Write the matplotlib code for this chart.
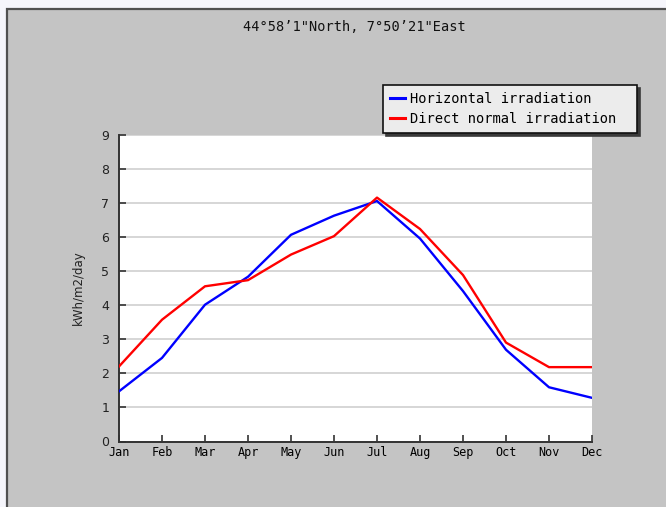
import matplotlib
matplotlib.use("Agg")
import matplotlib.pyplot as plt
from matplotlib.patches import Rectangle

# Dados
meses = ["Jan", "Feb", "Mar", "Apr", "May", "Jun",
         "Jul", "Aug", "Sep", "Oct", "Nov", "Dec"]
horizontal = [1.47, 2.45, 4.01, 4.83, 6.06, 6.62,
              7.05, 5.95, 4.41, 2.69, 1.59, 1.28]
direta = [2.2, 3.57, 4.55, 4.73, 5.48, 6.02,
          7.15, 6.23, 4.88, 2.9, 2.18, 2.18]
titulo = "44\u00b058\u20191\"North, 7\u00b050\u201921\"East"

mono = "DejaVu Sans Mono"

fig = plt.figure(figsize=(6.66, 5.07), dpi=100)
fig.patch.set_facecolor("#f5f5fb")

# Painel cinza com borda escura
painel = Rectangle((7 / 666, -0.05), 1.1, 1 - 9 / 507 + 0.05,
                   transform=fig.transFigure, facecolor="#c4c4c4",
                   edgecolor="#505050", linewidth=1.6, zorder=-5)
fig.add_artist(painel)

ax = fig.add_axes([119 / 666, 1 - 441.5 / 507,
                   (592 - 119) / 666, (441.5 - 134.5) / 507])
ax.set_facecolor("white")

x = list(range(len(meses)))
ax.plot(x, horizontal, color="#0000ff", linewidth=1.7,
        label="Horizontal irradiation", zorder=3)
ax.plot(x, direta, color="#ff0000", linewidth=1.7,
        label="Direct normal irradiation", zorder=3)

ax.set_xlim(0, 11)
ax.set_ylim(0, 9)
ax.set_yticks(range(10))
ax.set_xticks(x)
ax.set_xticklabels(meses, fontfamily=mono, fontsize=8.5)
for t in ax.get_yticklabels():
    t.set_fontsize(9)
    t.set_color("#222222")

ax.grid(axis="y", color="#cfcfcf", linewidth=1.2, zorder=1)
ax.set_axisbelow(True)
for lado in ["top", "right"]:
    ax.spines[lado].set_visible(False)
for lado in ["left", "bottom"]:
    ax.spines[lado].set_color("#333333")
    ax.spines[lado].set_linewidth(1.4)
ax.tick_params(axis="both", direction="in", length=5, width=1.2,
               color="#333333", pad=3.5)
ax.tick_params(axis="y", pad=7)

ax.set_ylabel("kWh/m2/day", fontsize=8.5, color="#222222", labelpad=12)

fig.text(354 / 666, 1 - 27 / 507, titulo, ha="center", va="center",
         fontfamily=mono, fontsize=9.8, color="#111111")

# Legenda esticada até a largura da caixa original
leg = ax.legend(loc="upper left", mode="expand",
                bbox_to_anchor=(383 / 666, 1 - 134 / 507, 254 / 666, 49 / 507),
                bbox_transform=fig.transFigure, prop={"family": mono, "size": 9.9},
                frameon=True, fancybox=False, shadow={"color": "#3a3a3a", "alpha": 1},
                handlelength=1.1, handletextpad=0.4, borderpad=0.5,
                labelspacing=0.45, borderaxespad=0)
frame = leg.get_frame()
frame.set_facecolor("#ececec")
frame.set_edgecolor("#111111")
frame.set_linewidth(1.2)
frame.set_alpha(1)
for linha in leg.get_lines():
    linha.set_linewidth(2.2)

fig.savefig("out.png", dpi=100, facecolor=fig.get_facecolor())
